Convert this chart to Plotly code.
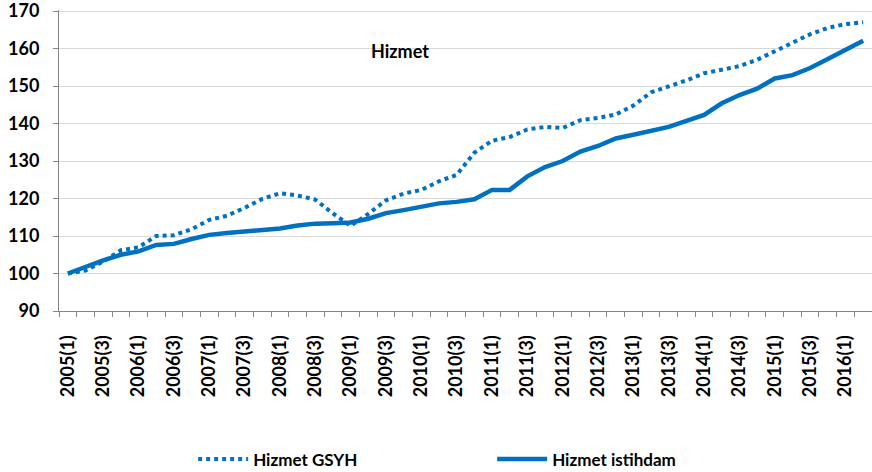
import plotly.graph_objects as go

quarters = [f"{y}({q})" for y in range(2005, 2017) for q in range(1, 5)][:46]

gsyh = [100.0, 100.8, 103.2, 106.2, 107.0, 110.0, 110.2, 111.8, 114.3, 115.4,
        117.5, 119.9, 121.4, 120.8, 119.7, 116.0, 112.7, 115.9, 119.5, 121.3,
        122.3, 124.6, 126.3, 132.2, 135.4, 136.4, 138.4, 139.1, 138.8, 140.9,
        141.5, 142.4, 144.8, 148.3, 149.9, 151.5, 153.4, 154.4, 155.3, 157.0,
        159.3, 161.4, 163.8, 165.5, 166.5, 167.0]

istihdam = [100.0, 101.9, 103.5, 105.0, 105.9, 107.6, 107.9, 109.2, 110.3, 110.8,
            111.3, 111.5, 112.0, 112.8, 113.3, 113.4, 113.6, 114.6, 116.1, 116.9,
            117.7, 118.7, 119.1, 119.8, 122.3, 122.3, 125.9, 128.4, 130.0, 132.5,
            134.0, 136.0, 137.0, 138.2, 139.1, 140.7, 142.3, 145.4, 147.6, 149.3,
            152.0, 152.9, 154.8, 157.2, 159.7, 162.1]

tick_text = [q if i % 2 == 0 else "" for i, q in enumerate(quarters)]
y_ticks = [90, 100, 110, 120, 130, 140, 150, 160, 170]

BLUE = "#0070C0"
FONT = "Lato"
FS = 18

fig = go.Figure()
fig.add_trace(go.Scatter(x=quarters, y=gsyh, mode="lines", name="Hizmet GSYH",
                         line=dict(color=BLUE, width=4, dash="4px,4px")))
fig.add_trace(go.Scatter(x=quarters, y=istihdam, mode="lines", name="Hizmet istihdam",
                         line=dict(color=BLUE, width=4.5)))

fig.update_layout(
    width=872, height=472,
    margin=dict(l=59, r=0, t=10, b=161, autoexpand=False),
    plot_bgcolor="white", paper_bgcolor="white",
    font=dict(family=FONT, size=FS, color="black"),
    showlegend=True,
    legend=dict(orientation="h", x=0.165, y=-0.493, xanchor="left", yanchor="middle",
                entrywidth=234, entrywidthmode="pixels",
                font=dict(family=FONT, size=17, color="black", weight="bold"),
                itemwidth=50),
    annotations=[dict(text="<b>Hizmet</b>", x=0.419, y=0.863, xref="paper", yref="paper",
                      xanchor="center", yanchor="middle",
                      showarrow=False, font=dict(family=FONT, size=FS, color="black"))],
)
fig.update_xaxes(type="category", range=[-0.5, 45.5], automargin=False,
                 tickvals=quarters, ticktext=tick_text, tickson="boundaries",
                 ticks="outside", ticklen=5, tickcolor="#868686",
                 tickangle=-90, showgrid=False,
                 showline=True, linecolor="#868686", linewidth=1,
                 tickfont=dict(family=FONT, size=FS, color="black", weight="bold"),
                 ticklabelstandoff=16, ticklabeloverflow="allow")
fig.update_yaxes(range=[90, 170.27], tickvals=y_ticks, showgrid=True, automargin=False,
                 gridcolor="#D9D9D9", gridwidth=1,
                 showline=True, linecolor="#868686", linewidth=1,
                 ticks="outside", ticklen=5, tickcolor="#868686",
                 tickfont=dict(family=FONT, size=FS, color="black", weight="bold"),
                 ticklabelstandoff=10, zeroline=False, ticklabeloverflow="allow")

fig.write_html("out.html", config={"displayModeBar": False},
               post_script="document.body.style.margin='0px';")
